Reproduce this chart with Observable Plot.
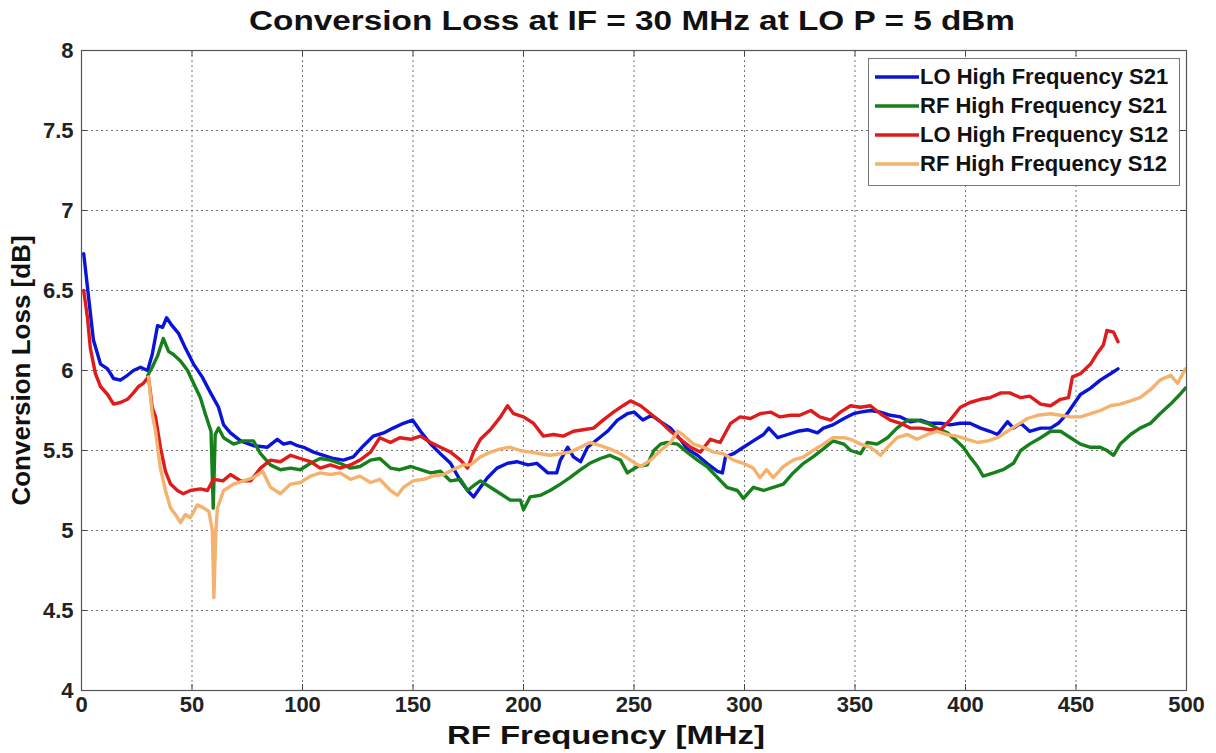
<!DOCTYPE html>
<html>
<head>
<meta charset="utf-8">
<script src="https://cdn.jsdelivr.net/npm/d3@7"></script>
<script src="https://cdn.jsdelivr.net/npm/@observablehq/plot@0.6"></script>
<style>
  html, body { margin: 0; padding: 0; background: #fff; }
  body { width: 1216px; height: 753px; position: relative; overflow: hidden; font-family: "Liberation Sans", Arial, sans-serif; }
  #titlebar { height: 40px; position: relative; }
  #title { position: absolute; left: 632px; top: 21px; transform: translate(-50%, -50%) scaleX(1.19); font-weight: bold; font-size: 28px; color: #111; white-space: nowrap; line-height: 1; }
  #legend { position: absolute; left: 868px; top: 58px; width: 312px; height: 128px; border: 1px solid #777; background: #fff; box-sizing: border-box; padding-top: 3px; }
  .row { height: 29px; display: flex; align-items: center; font-weight: bold; font-size: 22px; color: #111; white-space: nowrap; }
  .row svg { margin-left: 6px; margin-right: 1px; }
</style>
</head>
<body>
<div id="titlebar"><div id="title">Conversion Loss at IF = 30 MHz at LO P = 5 dBm</div></div>
<div id="chart"></div>
<div id="legend"></div>
<script>
const seriesNames = ["LO High Frequency S21", "RF High Frequency S21", "LO High Frequency S12", "RF High Frequency S12"];
const seriesColors = ["#0a14d8", "#17801c", "#e01b1b", "#f5b26e"];
const xTicks = [0, 50, 100, 150, 200, 250, 300, 350, 400, 450, 500];
const yTicks = [4, 4.5, 5, 5.5, 6, 6.5, 7, 7.5, 8];

const loS21 = [[1,6.73],[2.7,6.52],[5.4,6.19],[8.6,6.04],[11.8,6.01],[14.5,5.95],[17.6,5.94],[20.8,5.97],[23.5,6.0],[26.7,6.02],[29.9,6.0],[32,6.1],[34.4,6.28],[36.7,6.27],[38.5,6.33],[41,6.28],[44,6.23],[47,6.14],[50.7,6.04],[54.6,5.96],[58.4,5.86],[62,5.77],[64.3,5.66],[67.4,5.61],[72,5.56],[77.8,5.53],[84,5.52],[88.6,5.57],[91.4,5.54],[94.6,5.55],[97.7,5.53],[100.5,5.52],[105,5.49],[109.5,5.47],[114,5.45],[118.5,5.44],[123,5.46],[127.6,5.53],[132,5.59],[136.7,5.61],[141,5.64],[145.7,5.67],[149.8,5.69],[153.4,5.62],[158,5.54],[162.4,5.48],[167,5.42],[171.5,5.31],[174.7,5.25],[177.4,5.21],[180.5,5.27],[183.7,5.33],[188,5.39],[192.8,5.42],[197,5.43],[202,5.41],[206,5.42],[211,5.36],[215,5.36],[216.7,5.44],[220,5.52],[222.6,5.46],[225.8,5.43],[229,5.52],[233.5,5.57],[238,5.62],[242.5,5.69],[247,5.73],[250,5.74],[254,5.69],[258,5.72],[262,5.68],[266.5,5.64],[271,5.57],[274,5.51],[278.7,5.47],[283,5.42],[287.8,5.37],[290,5.36],[291.4,5.46],[295,5.48],[299.5,5.52],[304,5.56],[308.6,5.6],[311,5.64],[315,5.58],[319.5,5.6],[324,5.62],[328.5,5.63],[333,5.61],[335.7,5.64],[340,5.66],[345,5.7],[349.3,5.73],[352.5,5.74],[357,5.75],[361.5,5.74],[366,5.72],[370.6,5.71],[375,5.68],[379.6,5.69],[384,5.67],[388.7,5.67],[393,5.66],[397.7,5.67],[402,5.67],[406.8,5.64],[411,5.62],[414.5,5.6],[419,5.68],[421.7,5.64],[425,5.67],[429,5.62],[434,5.64],[438.5,5.64],[442,5.67],[446,5.73],[448,5.77],[452,5.85],[456.6,5.89],[461,5.94],[465.6,5.98],[469,6.01]];

const rfS21 = [[30,5.97],[32,6.02],[34.4,6.09],[37,6.2],[39.4,6.12],[41.6,6.1],[44.8,6.06],[48,6.0],[50.7,5.92],[53.8,5.83],[56,5.73],[58.6,5.62],[59.6,5.14],[60.5,5.6],[62,5.64],[64.3,5.58],[68.8,5.54],[73.3,5.56],[77.8,5.56],[81,5.48],[85.5,5.41],[90,5.38],[94.6,5.39],[99,5.38],[103.6,5.42],[108,5.45],[112.6,5.44],[117,5.42],[121.7,5.39],[126,5.4],[130.8,5.44],[135,5.45],[139.8,5.39],[144,5.38],[149,5.4],[153.4,5.38],[158,5.36],[162.4,5.37],[167,5.31],[171.5,5.32],[174.7,5.25],[177.4,5.28],[180.5,5.31],[185,5.27],[189.6,5.23],[194,5.19],[198.6,5.19],[200,5.13],[203,5.21],[207.7,5.22],[212,5.25],[216.7,5.29],[221,5.33],[225.8,5.38],[230,5.42],[234.8,5.45],[239,5.47],[243.9,5.44],[247,5.36],[251.6,5.4],[256,5.41],[259,5.5],[262,5.54],[265,5.55],[269.7,5.54],[274,5.49],[278.7,5.44],[283,5.4],[287.8,5.33],[292,5.27],[296.8,5.25],[299.5,5.2],[304,5.27],[308.6,5.25],[313,5.27],[317.6,5.29],[322,5.36],[326.7,5.42],[331,5.46],[335.7,5.51],[340,5.56],[345,5.54],[348,5.5],[352.5,5.48],[355.6,5.55],[360,5.54],[364.7,5.58],[369,5.64],[373.8,5.69],[378,5.69],[382.8,5.67],[387,5.64],[391.8,5.61],[396,5.56],[399,5.52],[402,5.46],[405.4,5.4],[408,5.34],[412.7,5.36],[417,5.38],[421.7,5.42],[425,5.5],[429,5.54],[434,5.58],[438.5,5.62],[443,5.62],[447.5,5.58],[452,5.54],[456.6,5.52],[461,5.52],[464,5.5],[467,5.47],[470,5.54],[474.7,5.6],[479,5.64],[483.7,5.67],[488,5.73],[492.8,5.79],[497,5.85],[499.5,5.89]];

const loS12 = [[1,6.5],[2.7,6.33],[4,6.14],[6.3,5.98],[8.6,5.9],[11.8,5.85],[14.5,5.79],[17.6,5.8],[20.8,5.82],[23.5,5.86],[25.8,5.9],[28,5.92],[30.3,5.96],[32,5.77],[33.5,5.71],[35.7,5.52],[38,5.37],[40.3,5.29],[43.4,5.25],[46,5.23],[49.3,5.25],[53.8,5.26],[57,5.25],[59.7,5.32],[64,5.31],[67.4,5.35],[72,5.31],[76.5,5.31],[81,5.39],[85.5,5.44],[90,5.43],[94.6,5.47],[99,5.45],[103.6,5.43],[108,5.39],[112.6,5.41],[117,5.39],[121.7,5.41],[126,5.44],[130.8,5.49],[135,5.58],[139.8,5.55],[144,5.58],[149,5.57],[153.4,5.59],[158,5.55],[162.4,5.52],[167,5.49],[171.5,5.44],[174.7,5.39],[177.4,5.49],[180.5,5.57],[185,5.63],[189.6,5.71],[192.8,5.78],[195.5,5.73],[200,5.71],[204.5,5.67],[209,5.59],[213.6,5.6],[218,5.59],[222.6,5.62],[227,5.63],[231.7,5.64],[236,5.69],[240.7,5.74],[245,5.78],[248.4,5.81],[253,5.78],[257.5,5.73],[262,5.68],[266.5,5.62],[271,5.57],[275.6,5.52],[280,5.49],[284.6,5.57],[289,5.55],[293.7,5.67],[298,5.71],[302.7,5.7],[307,5.73],[311.8,5.74],[316,5.71],[320.8,5.72],[325,5.72],[330,5.75],[334,5.71],[339,5.69],[343.4,5.74],[348,5.78],[352.5,5.77],[357,5.78],[361.5,5.73],[366,5.69],[370.6,5.67],[375,5.64],[379.6,5.64],[384,5.63],[388.7,5.63],[393,5.69],[397.7,5.77],[402,5.8],[406.8,5.82],[411,5.83],[416,5.86],[420,5.86],[425,5.83],[429,5.84],[434,5.79],[438.5,5.78],[443,5.82],[446.6,5.83],[448.4,5.96],[452,5.98],[456.6,6.04],[459.7,6.11],[462.4,6.16],[464,6.25],[467,6.24],[469,6.18]];

const rfS12 = [[30.3,5.96],[32,5.73],[33.5,5.62],[35.7,5.39],[38,5.25],[40.3,5.14],[42.5,5.1],[44.8,5.05],[47,5.1],[49.3,5.08],[52.4,5.16],[55.4,5.14],[57.6,5.12],[59.2,5.0],[59.9,4.58],[60.8,5.0],[61.5,5.14],[64.3,5.25],[68.8,5.29],[73.3,5.31],[77.8,5.33],[82,5.37],[85.5,5.27],[90,5.23],[94.6,5.29],[99,5.3],[103.6,5.34],[108,5.36],[112.6,5.35],[117,5.36],[121.7,5.32],[126,5.34],[130.8,5.3],[135,5.32],[139.8,5.25],[143,5.22],[145.7,5.27],[150,5.31],[154.8,5.32],[159,5.34],[163.8,5.35],[168,5.38],[172.9,5.41],[176,5.41],[180.5,5.46],[185,5.49],[189.6,5.51],[194,5.52],[198.6,5.5],[203,5.49],[207.7,5.48],[212,5.47],[216.7,5.48],[221,5.49],[225.8,5.52],[230,5.55],[234.8,5.53],[239,5.51],[243.9,5.48],[248.4,5.44],[253,5.4],[257.5,5.44],[262,5.5],[266.5,5.55],[269.7,5.62],[272,5.6],[277,5.54],[281.5,5.52],[286,5.49],[290.5,5.48],[295,5.44],[299.5,5.42],[304,5.39],[307,5.33],[310,5.38],[313,5.33],[317.6,5.4],[322,5.44],[326.7,5.46],[331,5.5],[335.7,5.54],[340,5.58],[345,5.58],[348,5.57],[352.5,5.54],[357,5.52],[361.5,5.47],[364.7,5.52],[369,5.58],[373.8,5.6],[378,5.57],[382.8,5.6],[387,5.62],[391.8,5.6],[396,5.59],[400.9,5.57],[405.4,5.55],[410,5.56],[414.5,5.58],[419,5.62],[423.5,5.66],[428,5.7],[432.6,5.72],[438.5,5.73],[443,5.72],[447.5,5.71],[452,5.71],[456.6,5.73],[461,5.75],[465.6,5.78],[470,5.79],[474.7,5.81],[479,5.83],[483.7,5.88],[488,5.94],[492.8,5.97],[496,5.92],[499.5,6.01]];

const allSeries = [loS21, rfS21, loS12, rfS12];
const rows = allSeries.flatMap((s, i) => s.map(([f, v]) => ({f, v, series: seriesNames[i]})));

const font = `"Liberation Sans", Arial, sans-serif`;
const W = 1216, H = 713, mL = 81, mR = 30, mT = 10, mB = 63;
const innerW = W - mL - mR, innerH = H - mT - mB, tickLen = 6;
const xLabel = "RF Frequency [MHz]";
const yLabel = "Conversion Loss [dB]";

const chart = Plot.plot({
  width: W,
  height: H,
  marginLeft: mL,
  marginRight: mR,
  marginTop: mT,
  marginBottom: mB,
  style: {fontFamily: font, background: "#fff", overflow: "visible"},
  x: {domain: [0, 500]},
  y: {domain: [4, 8]},
  color: {domain: seriesNames, range: seriesColors},
  marks: [
    Plot.gridX(xTicks, {stroke: "#666", strokeOpacity: 0.9, strokeDasharray: "2,3"}),
    Plot.gridY(yTicks, {stroke: "#666", strokeOpacity: 0.9, strokeDasharray: "2,3"}),
    Plot.tickX(xTicks, {x: d => d, insetTop: innerH - tickLen, stroke: "#444"}),
    Plot.tickX(xTicks, {x: d => d, insetBottom: innerH - tickLen, stroke: "#444"}),
    Plot.tickY(yTicks, {y: d => d, insetRight: innerW - tickLen, stroke: "#444"}),
    Plot.tickY(yTicks, {y: d => d, insetLeft: innerW - tickLen, stroke: "#444"}),
    Plot.lineY(rows, {x: "f", y: "v", z: "series", stroke: "series", strokeWidth: 3.4, curve: "linear"}),
    Plot.frame({stroke: "#555", strokeWidth: 1.2}),
    Plot.axisX(xTicks, {tickSize: 0, tickPadding: 6, fontSize: 22, fontWeight: "bold", fill: "#222", tickFormat: d => String(d), label: null}),
    Plot.axisY(yTicks, {tickSize: 0, tickPadding: 8, fontSize: 22, fontWeight: "bold", fill: "#222", tickFormat: d => String(d), label: null}),
    Plot.text([xLabel], {frameAnchor: "bottom", dx: -28, dy: 53, fontSize: 25, fontWeight: "bold", fill: "#111", textAnchor: "middle", className: "xlabel"}),
    Plot.text([yLabel], {frameAnchor: "left", dx: -60, rotate: -90, fontSize: 26, fontWeight: "bold", fill: "#111", textAnchor: "middle"})
  ]
});
// stretch the x label horizontally like the reference
d3.select(chart).selectAll("g.xlabel text").attr("textLength", 318).attr("lengthAdjust", "spacingAndGlyphs");
document.getElementById("chart").appendChild(chart);

const legend = document.getElementById("legend");
seriesNames.forEach((name, i) => {
  const row = document.createElement("div");
  row.className = "row";
  row.innerHTML = `<svg width="44" height="10"><line x1="0" y1="5" x2="44" y2="5" stroke="${seriesColors[i]}" stroke-width="3.4"/></svg><span>${name}</span>`;
  legend.appendChild(row);
});
</script>
</body>
</html>
